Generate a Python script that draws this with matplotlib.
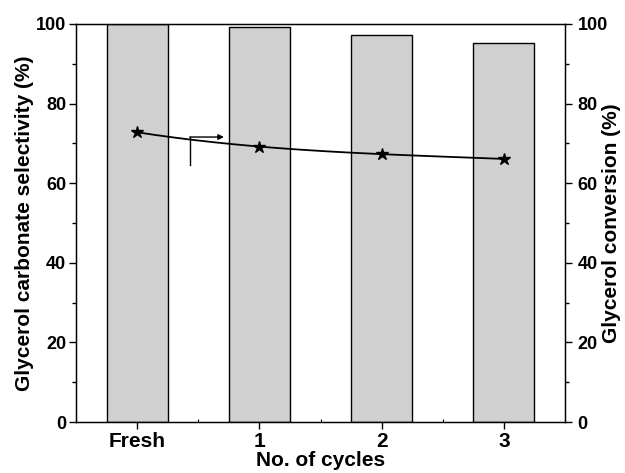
import numpy as np
import matplotlib
matplotlib.use("Agg")
import matplotlib.pyplot as plt
from matplotlib.ticker import MultipleLocator

categories = ["Fresh", "1", "2", "3"]
selectivity = [100.0, 99.3, 97.2, 95.2]
conversion = [72.8, 69.2, 67.3, 66.1]

plt.rcParams['font.family'] = ['Liberation Sans', 'DejaVu Sans']
plt.rcParams['font.weight'] = 'bold'

W, H = 625, 473
L, R, T, B = 76, 565, 24, 422
fig = plt.figure(figsize=(W/100, H/100), dpi=100)
ax = fig.add_axes([L/W, 1 - B/H, (R-L)/W, (B-T)/H])
x = np.arange(len(categories))
ax.bar(x, selectivity, width=0.5, color='#d0d0d0', edgecolor='black', linewidth=1.0, zorder=2)
ax.set_xlim(-0.5, 3.5)
ax.set_ylim(0, 100)
ax.set_xticks(x)
ax.set_xticklabels(categories, fontsize=15, fontweight='bold')
ax.xaxis.set_minor_locator(MultipleLocator(0.5))
ax.tick_params(axis='x', which='major', length=5, width=1.0, direction='out', pad=2.5)
ax.tick_params(axis='x', which='minor', length=2, width=0.8, direction='in', top=False)
ax.yaxis.set_major_locator(MultipleLocator(20))
ax.yaxis.set_minor_locator(MultipleLocator(10))
ax.tick_params(axis='y', which='major', length=5, width=1.0, direction='out', labelsize=13, pad=2)
ax.tick_params(axis='y', which='minor', length=3, width=1.0, direction='out')
for lbl in ax.get_yticklabels():
    lbl.set_fontweight('bold')
ax.set_ylabel("Glycerol carbonate selectivity (%)", fontsize=15, fontweight='bold')
ax.yaxis.set_label_coords((34 - L)/(R - L), 0.5)
ax.set_xlabel("No. of cycles", fontsize=15, fontweight='bold')
ax.xaxis.set_label_coords(0.5, (B - 451)/(B - T))
for s in ax.spines.values():
    s.set_linewidth(1.0)

ax2 = ax.twinx()
ax2.set_ylim(0, 100)
ax2.yaxis.set_major_locator(MultipleLocator(20))
ax2.yaxis.set_minor_locator(MultipleLocator(10))
ax2.tick_params(axis='y', which='major', length=5, width=1.0, direction='out', labelsize=13, pad=4)
ax2.tick_params(axis='y', which='minor', length=3, width=1.0, direction='out')
for lbl in ax2.get_yticklabels():
    lbl.set_fontweight('bold')
ax2.set_ylabel("Glycerol conversion (%)", fontsize=15, fontweight='bold')
ax2.yaxis.set_label_coords((602 - L)/(R - L), 0.5)

# smooth curve through the data points
coef = np.polyfit(x, conversion, 3)
xs = np.linspace(x[0], x[-1], 200)
ax2.plot(xs, np.polyval(coef, xs), color='black', linewidth=1.3, zorder=3)
ax2.plot(x, conversion, linestyle='none', marker='*', markersize=9, color='black', zorder=4)

# arrow indicating right axis
ax2.plot([0.43, 0.43], [64.6, 71.6], color='black', linewidth=1.0)
ax2.annotate("", xy=(0.71, 71.6), xytext=(0.43, 71.6),
             arrowprops=dict(arrowstyle='-|>', color='black', lw=1.0, mutation_scale=8,
                             shrinkA=0, shrinkB=0))

fig.savefig("out.png", dpi=100)
